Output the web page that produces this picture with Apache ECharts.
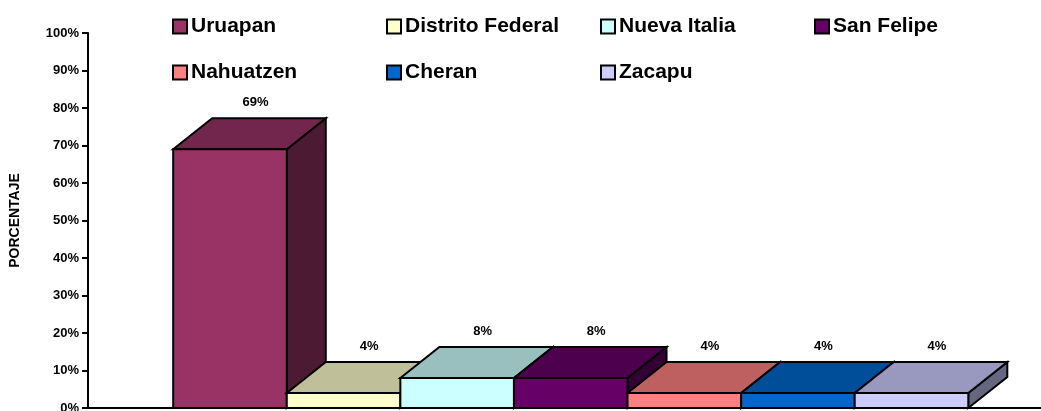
<!DOCTYPE html>
<html>
<head>
<meta charset="utf-8">
<script src="https://cdn.jsdelivr.net/npm/echarts@6/dist/echarts.min.js"></script>
<style>
  html, body { margin: 0; padding: 0; background: #fff; }
  #chart { width: 1041px; height: 411px; }
</style>
</head>
<body>
<div id="chart"></div>
<script>
  // datos
  var lugares = ['Uruapan', 'Distrito Federal', 'Nueva Italia', 'San Felipe', 'Nahuatzen', 'Cheran', 'Zacapu']
  var porcentajes = [69, 4, 8, 8, 4, 4, 4]
  var colores = ['#993366', '#FFFFCC', '#CCFFFF', '#660066', '#FF8080', '#0066CC', '#CCCCFF']

  var DX = 39
  var DY = 31
  var FONT = '"Liberation Sans", Arial, sans-serif'

  // oscurecer un color (caras superior y lateral, estilo excel)
  function shade (hex, f) {
    var n = parseInt(hex.slice(1), 16)
    var r = Math.round(((n >> 16) & 255) * f)
    var g = Math.round(((n >> 8) & 255) * f)
    var b = Math.round((n & 255) * f)
    return 'rgb(' + r + ',' + g + ',' + b + ')'
  }

  function renderBar3d (params, api) {
    var i = api.value(0)
    var v = api.value(1)
    var p0 = api.coord([i, 0])
    var p1 = api.coord([i + 1, v])
    var x = p0[0]
    var y = p1[1]
    var w = p1[0] - p0[0]
    var h = p0[1] - p1[1]
    var base = colores[params.seriesIndex]
    var line = { stroke: '#000', lineWidth: 2, lineJoin: 'miter' }
    return {
      type: 'group',
      children: [
        {
          type: 'polygon',
          shape: { points: [[x + w, y], [x + w + DX, y - DY], [x + w + DX, y + h - DY], [x + w, y + h]] },
          style: Object.assign({ fill: shade(base, 0.5) }, line)
        },
        {
          type: 'polygon',
          shape: { points: [[x, y], [x + DX, y - DY], [x + w + DX, y - DY], [x + w, y]] },
          style: Object.assign({ fill: shade(base, 0.75) }, line)
        },
        {
          type: 'rect',
          shape: { x: x, y: y, width: w, height: h },
          style: Object.assign({ fill: base }, line)
        },
        {
          type: 'text',
          x: x + w / 2 + DX / 2 + 6,
          y: y - DY / 2 - 31,
          style: {
            text: v + '%',
            fill: '#000',
            font: 'bold 13px ' + FONT,
            align: 'center',
            verticalAlign: 'middle'
          }
        }
      ]
    }
  }

  // leyenda en dos filas, cuatro columnas
  var legendCols = [172, 386, 600, 814]
  var legendRows = [16, 62]
  var legends = lugares.map(function (name, k) {
    return {
      data: [name],
      left: legendCols[k % 4],
      top: legendRows[Math.floor(k / 4)],
      padding: 0,
      itemWidth: 14,
      itemHeight: 14,
      itemGap: 0,
      icon: 'rect',
      selectedMode: false,
      itemStyle: { borderColor: '#000', borderWidth: 2 },
      textStyle: { fontFamily: FONT, fontWeight: 'bold', fontSize: 21, color: '#000', padding: [0, 0, 0, -1] }
    }
  })

  var series = lugares.map(function (name, k) {
    return {
      name: name,
      type: 'custom',
      z: 2 + k,
      color: colores[k],
      renderItem: renderBar3d,
      data: [[k, porcentajes[k]]]
    }
  })

  var option = {
    animation: false,
    backgroundColor: '#fff',
    legend: legends,
    grid: { left: 88, right: 0, top: 33, bottom: 3, containLabel: false, outerBoundsMode: 'none' },
    xAxis: {
      type: 'value',
      min: -0.75,
      max: 7.64,
      axisLine: { show: true, onZero: false, lineStyle: { color: '#000', width: 2 } },
      axisTick: { show: false },
      axisLabel: { show: false },
      splitLine: { show: false }
    },
    yAxis: {
      type: 'value',
      min: 0,
      max: 100,
      interval: 10,
      name: 'PORCENTAJE',
      nameLocation: 'middle',
      nameGap: 66,
      nameRotate: 90,
      nameTextStyle: { fontFamily: FONT, fontWeight: 'bold', fontSize: 14, color: '#000' },
      axisLine: { show: true, onZero: false, lineStyle: { color: '#000', width: 2 } },
      axisTick: { show: true, length: 6, lineStyle: { color: '#000', width: 2 } },
      axisLabel: {
        formatter: '{value}%',
        fontFamily: FONT,
        fontWeight: 'bold',
        fontSize: 13,
        color: '#000',
        margin: 9
      },
      splitLine: { show: false }
    },
    series: series
  }

  var chart = echarts.init(document.getElementById('chart'))
  chart.setOption(option)
</script>
</body>
</html>
